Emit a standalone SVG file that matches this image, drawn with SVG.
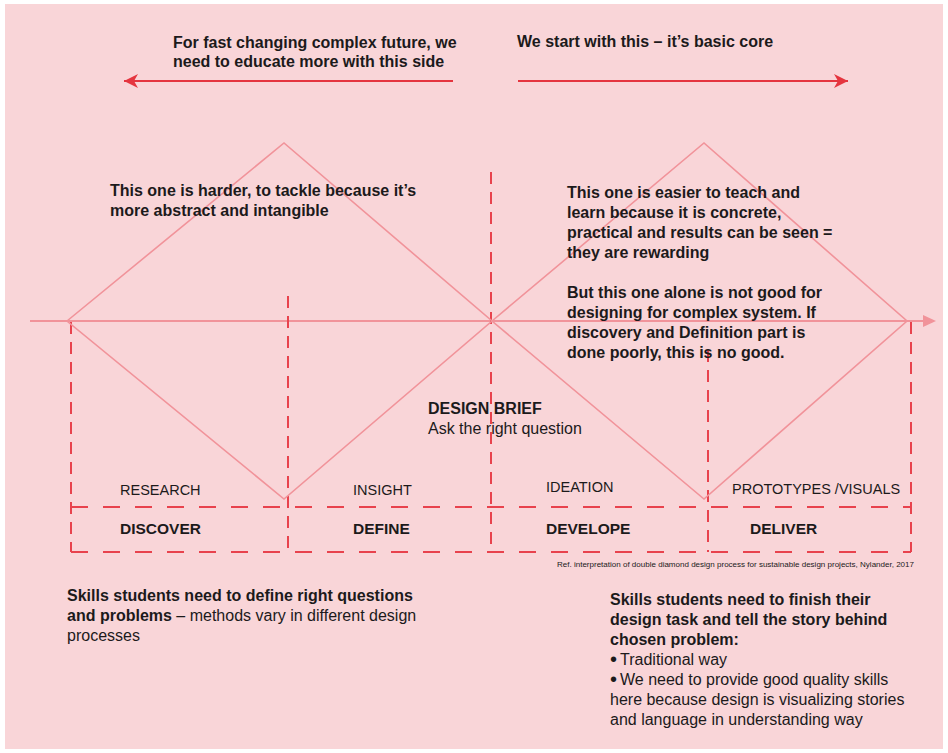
<svg xmlns="http://www.w3.org/2000/svg" width="948" height="753" viewBox="0 0 948 753">
  <style>
    text { font-family: "Liberation Sans", Arial, sans-serif; fill: #1c1a1b; }
    .b { font-weight: bold; font-size: 16px; }
    .r { font-size: 16px; }
    .stage { font-size: 14.5px; }
    .phase { font-weight: bold; font-size: 15.5px; }
    .diamond { fill: none; stroke: #f1939a; stroke-width: 1.6; stroke-linejoin: miter; }
    .vdash { stroke: #e8424d; stroke-width: 2; stroke-dasharray: 12 8; fill: none; }
    .hdash { stroke: #e8424d; stroke-width: 2; stroke-dasharray: 17 15; fill: none; }
    .dir { stroke: #e5353f; stroke-width: 2; fill: none; }
  </style>
  <defs>
    <marker id="barb" markerUnits="userSpaceOnUse" markerWidth="20" markerHeight="20" refX="14" refY="7" orient="auto" viewBox="0 0 20 14">
      <path d="M14,7 L0,0 L4,7 L0,14 Z" fill="#e5353f"/>
    </marker>
    <marker id="axisHead" markerUnits="userSpaceOnUse" markerWidth="16" markerHeight="14" refX="0" refY="6" orient="auto" viewBox="0 0 16 12">
      <path d="M0,0 L13,6 L0,12 Z" fill="#f1939a"/>
    </marker>
  </defs>

  <!-- page -->
  <rect x="5" y="4" width="938" height="745" fill="#f9d5d8"/>

  <g id="connectors">
    <!-- direction arrows -->
    <line class="dir" x1="453" y1="81" x2="124" y2="81" marker-end="url(#barb)"/>
    <line class="dir" x1="518" y1="81" x2="848" y2="81" marker-end="url(#barb)"/>
    <!-- time axis -->
    <line x1="30" y1="321" x2="923" y2="321" stroke="#f1939a" stroke-width="2" marker-end="url(#axisHead)"/>
    <!-- phase dividers -->
    <line class="vdash" x1="71" y1="322" x2="71" y2="552"/>
    <line class="vdash" x1="288" y1="296" x2="288" y2="552"/>
    <line class="vdash" x1="491" y1="172" x2="491" y2="552"/>
    <line class="vdash" x1="708" y1="350" x2="708" y2="552"/>
    <line class="vdash" x1="911" y1="322" x2="911" y2="552"/>
    <line class="hdash" x1="71" y1="507" x2="911" y2="507"/>
    <line class="hdash" x1="71" y1="552" x2="911" y2="552"/>
  </g>

  <!-- double diamond -->
  <g id="diamond-left">
    <polygon class="diamond" points="67,321 284,143 492,321 284,499"/>
  </g>
  <g id="diamond-right">
    <polygon class="diamond" points="492,321 704,143 907,321 704,499"/>
  </g>

  <g id="note-future">
    <text class="b" x="173" y="48">For fast changing complex future, we</text>
    <text class="b" x="173" y="67">need to educate more with this side</text>
  </g>
  <g id="note-core">
    <text class="b" x="517" y="47">We start with this – it’s basic core</text>
  </g>

  <g id="note-harder">
    <text class="b" x="110" y="196">This one is harder, to tackle because it’s</text>
    <text class="b" x="110" y="216">more abstract and intangible</text>
  </g>

  <g id="note-easier">
    <text class="b" x="567" y="198">This one is easier to teach and</text>
    <text class="b" x="567" y="218">learn because it is concrete,</text>
    <text class="b" x="567" y="238">practical and results can be seen =</text>
    <text class="b" x="567" y="258">they are rewarding</text>
    <text class="b" x="567" y="298">But this one alone is not good for</text>
    <text class="b" x="567" y="318">designing for complex system. If</text>
    <text class="b" x="567" y="338">discovery and Definition part is</text>
    <text class="b" x="567" y="358">done poorly, this is no good.</text>
  </g>

  <g id="design-brief">
    <text class="b" x="428" y="414">DESIGN BRIEF</text>
    <text class="r" x="428" y="434">Ask the right question</text>
  </g>

  <g id="phase-discover">
    <text class="stage" x="120" y="495">RESEARCH</text>
    <text class="phase" x="120" y="534">DISCOVER</text>
  </g>
  <g id="phase-define">
    <text class="stage" x="353" y="495">INSIGHT</text>
    <text class="phase" x="353" y="534">DEFINE</text>
  </g>
  <g id="phase-develop">
    <text class="stage" x="546" y="492">IDEATION</text>
    <text class="phase" x="546" y="534">DEVELOPE</text>
  </g>
  <g id="phase-deliver">
    <text class="stage" x="732" y="494">PROTOTYPES /VISUALS</text>
    <text class="phase" x="750" y="534">DELIVER</text>
  </g>

  <g id="reference">
    <text x="557" y="567" font-size="7" textLength="357" lengthAdjust="spacingAndGlyphs" fill="#3a3536">Ref. interpretation of double diamond design process for sustainable design projects, Nylander, 2017</text>
  </g>

  <g id="skills-define">
    <text class="b" x="67" y="601">Skills students need to define right questions</text>
    <text class="r" x="67" y="621"><tspan font-weight="bold">and problems</tspan> – methods vary in different design</text>
    <text class="r" x="67" y="641">processes</text>
  </g>

  <g id="skills-deliver">
    <text class="b" x="610" y="605">Skills students need to finish their</text>
    <text class="b" x="610" y="625">design task and tell the story behind</text>
    <text class="b" x="610" y="645">chosen problem:</text>
    <text class="r" x="610" y="665"><tspan font-size="20" dy="1">•</tspan><tspan dy="-1" dx="3">Traditional way</tspan></text>
    <text class="r" x="610" y="685"><tspan font-size="20" dy="1">•</tspan><tspan dy="-1" dx="3">We need to provide good quality skills</tspan></text>
    <text class="r" x="610" y="705">here because design is visualizing stories</text>
    <text class="r" x="610" y="725">and language in understanding way</text>
  </g>
</svg>
